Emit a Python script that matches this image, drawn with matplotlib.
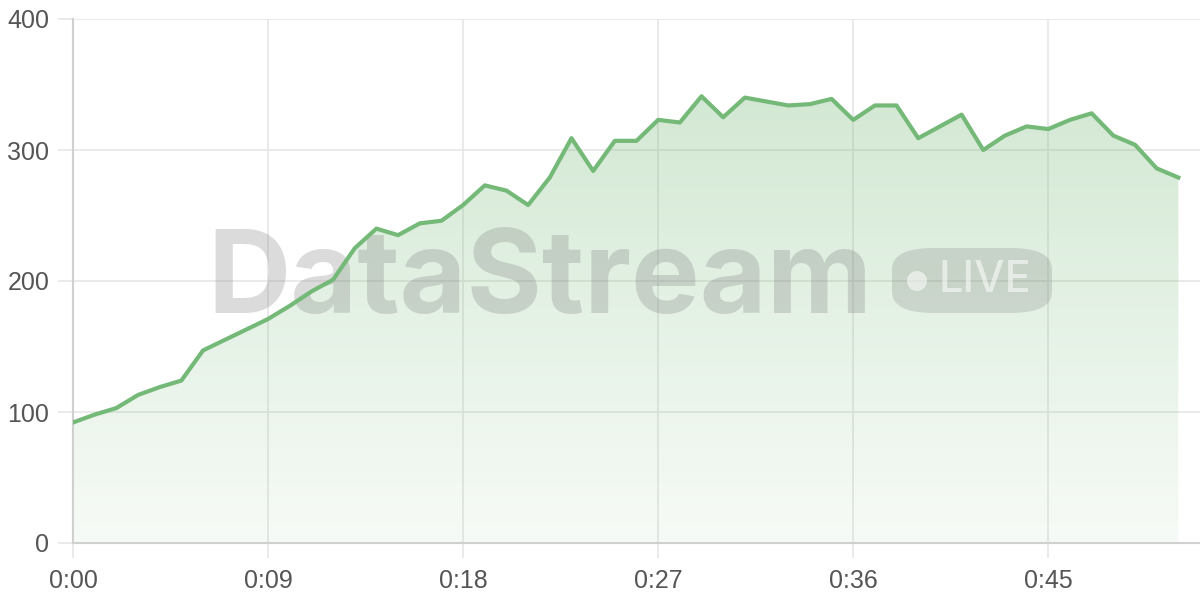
import numpy as np
import matplotlib.pyplot as plt
from matplotlib.patches import FancyBboxPatch, Ellipse

# minutes since start and value per minute
minutes = list(range(52))
values = [92, 98, 103, 113, 119, 124, 147, 155, 163, 171, 181, 192, 201,
          225, 240, 235, 244, 246, 258, 273, 269, 258, 279, 309, 284, 307,
          307, 323, 321, 341, 325, 340, 337, 334, 335, 339, 323, 334, 334,
          309, 318, 327, 300, 311, 318, 316, 323, 328, 311, 304, 286, 279]
tick_pos = [0, 9, 18, 27, 36, 45]
tick_labels = ["0:00", "0:09", "0:18", "0:27", "0:36", "0:45"]
y_ticks = [0, 100, 200, 300, 400]

plt.rcParams['font.family'] = ['Liberation Sans', 'DejaVu Sans']

fig = plt.figure(figsize=(12, 6), dpi=100)
ax = fig.add_axes([73/1200, 57/600, 1 - 73/1200, 524/600])
ax.set_xlim(0, 52)
ax.set_ylim(0, 400)

line_col = "#74b977"

# gradient fill under the line
grad = np.zeros((256, 1, 4))
t = np.linspace(0, 1, 256)[:, None]
grad[:, :, :3] = np.array([0.455, 0.725, 0.467])
grad[:, :, 3] = 0.06 + 0.26 * t
im = ax.imshow(grad, extent=[0, minutes[-1], 0, max(values)], origin='lower',
               aspect='auto', zorder=1)
poly = ax.fill_between(minutes, values, 0, color='none', lw=0)
im.set_clip_path(poly.get_paths()[0], transform=ax.transData)

ax.plot(minutes, values, color=line_col, lw=3, zorder=3)

ax.set_xticks(tick_pos)
ax.set_xticklabels(tick_labels)
ax.set_yticks(y_ticks)
ax.grid(True, color="#e6e6e6", lw=1.2, zorder=0)
ax.set_axisbelow(True)
for s in ['top', 'right']:
    ax.spines[s].set_visible(False)
for s in ['left', 'bottom']:
    ax.spines[s].set_color("#d0d0d0")
    ax.spines[s].set_linewidth(1.5)
ax.tick_params(axis='both', colors="#e6e6e6", labelcolor="#555555",
               labelsize=18, length=11, width=1.2)
ax.tick_params(axis='y', pad=6)
ax.tick_params(axis='x', pad=8)

# watermark, between the fill and the line
wm = (0.45, 0.45, 0.45, 0.25)
ax.text(540/1200, 1 - 283/600, "DataStream", ha='center', va='center',
        fontsize=83, fontweight='bold', family=['Inter', 'DejaVu Sans'],
        color=wm, zorder=2, transform=fig.transFigure)
badge = FancyBboxPatch((892/1200, 1 - 313/600), 160/1200, 65/600,
                       boxstyle="round,pad=0,rounding_size=0.035",
                       transform=fig.transFigure, facecolor=(0.45, 0.45, 0.45, 0.22),
                       edgecolor='none', zorder=2)
ax.add_artist(badge)
dot = Ellipse((917/1200, 1 - 281/600), 20/1200, 20/600, transform=fig.transFigure,
              facecolor=(1, 1, 1, 0.55), edgecolor='none', zorder=2.1)
ax.add_artist(dot)
ax.text(985/1200, 1 - 281/600, "LIVE", ha='center', va='center',
        fontsize=31, fontweight='medium', family=['Inter', 'DejaVu Sans'],
        color=(1, 1, 1, 0.55), zorder=2.1, transform=fig.transFigure)

fig.savefig("out.png", dpi=100)
